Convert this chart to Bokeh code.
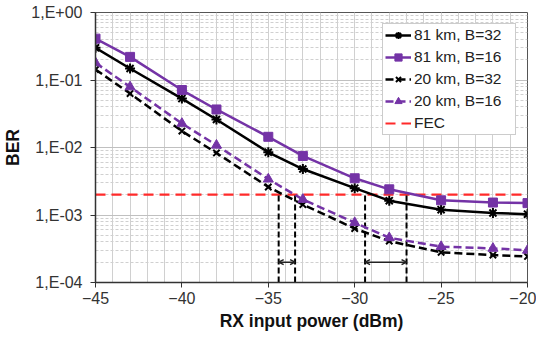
from bokeh.plotting import figure
from bokeh.models import (FixedTicker, CustomJSTickFormatter, Legend, Arrow, OpenHead)
from bokeh.embed import file_html
from bokeh.resources import INLINE

# ---- data ----
power = [-45, -43, -40, -38, -35, -33, -30, -28, -25, -22, -20]
ber_81_b32 = [0.30, 0.148, 0.053, 0.026, 0.0085, 0.0048, 0.0025, 0.00163, 0.0012, 0.00107, 0.00103]
ber_81_b16 = [0.41, 0.22, 0.071, 0.0366, 0.0144, 0.0075, 0.0035, 0.0024, 0.00165, 0.00153, 0.0015]
ber_20_b32 = [0.143, 0.063, 0.0175, 0.0083, 0.0026, 0.00143, 0.00063, 0.00041, 0.00028, 0.000255, 0.000243]
ber_20_b16 = [0.18, 0.079, 0.0227, 0.0108, 0.0034, 0.0017, 0.00077, 0.00046, 0.00034, 0.00032, 0.0003]
fec_limit = 2e-3
crossings = [-34.4, -33.45, -29.4, -27.0]
arrow_pairs = [(-34.4, -33.45), (-29.4, -27.0)]
arrow_level = 2e-4
x_ticks = [-45, -40, -35, -30, -25, -20]
y_ticks = [1e-4, 1e-3, 1e-2, 1e-1, 1.0]

PURPLE = "#7433a6"
FONT = "Liberation Sans"

p = figure(frame_width=432, frame_height=270, y_axis_type="log",
           x_range=(-45, -20), y_range=(1e-4, 1.0),
           output_backend="svg", toolbar_location=None,
           min_border_left=0, min_border_right=9, min_border_top=12, min_border_bottom=0)

# grid
minor_y = [m * 10.0 ** e for e in range(-4, 0) for m in range(2, 10)]
p.yaxis.ticker = FixedTicker(ticks=y_ticks, minor_ticks=minor_y)
p.xaxis.ticker = FixedTicker(ticks=x_ticks, minor_ticks=list(range(-45, -19)))
p.xgrid.grid_line_color = "#d0d0d0"
p.xgrid.minor_grid_line_color = "#d0d0d0"
p.ygrid.grid_line_color = "#c0c0c0"
p.ygrid.minor_grid_line_color = "#d0d0d0"
p.ygrid.minor_grid_line_dash = "3 2"
p.outline_line_color = "#555555"
p.outline_line_width = 1
p.background_fill_color = "white"

p.yaxis.formatter = CustomJSTickFormatter(code="""
const e = Math.round(Math.log10(tick));
return '1,E' + (e < 0 ? '-' : '+') + String(Math.abs(e)).padStart(2, '0');
""")

for ax in (p.xaxis[0], p.yaxis[0]):
    ax.axis_line_color = "#333333"
    ax.axis_line_width = 1.5
    ax.major_tick_line_color = "#333333"
    ax.major_tick_out = 5
    ax.major_tick_in = 0
    ax.minor_tick_out = 0
    ax.minor_tick_in = 0
    ax.major_label_text_font = FONT
    ax.major_label_text_font_size = "16px"
    ax.major_label_text_color = "#333333"
    ax.axis_label_text_font = FONT
    ax.axis_label_text_font_size = "17.5px"
    ax.axis_label_text_font_style = "bold"
    ax.axis_label_text_color = "#111111"

p.xaxis.axis_label = "RX input power (dBm)"
p.yaxis.axis_label = "BER"
p.xaxis.major_label_standoff = 4
p.xaxis.axis_label_standoff = 4
p.yaxis.major_label_standoff = 8
p.yaxis.axis_label_standoff = 5

# FEC line
fec_r = p.line(x=[-45, -20], y=[fec_limit, fec_limit], line_color="#ff2a2a",
               line_width=2.2, line_dash="10 6")

# vertical dashed markers and arrows
p.segment(x0=crossings, y0=[1e-4] * len(crossings), x1=crossings, y1=[fec_limit] * len(crossings),
          line_color="black", line_width=2, line_dash="6 3")
for a, b in arrow_pairs:
    p.add_layout(Arrow(start=OpenHead(size=5, line_width=1.5, line_color="#222222"),
                       end=OpenHead(size=5, line_width=1.5, line_color="#222222"),
                       x_start=a, y_start=arrow_level, x_end=b, y_end=arrow_level,
                       line_color="#222222", line_width=1.5))

l1 = p.line(power, ber_81_b32, line_color="black", line_width=2.5)
s1 = p.scatter(power, ber_81_b32, marker="asterisk", size=10, line_color="black", line_width=2)
l2 = p.line(power, ber_81_b16, line_color=PURPLE, line_width=2.5)
s2 = p.scatter(power, ber_81_b16, marker="square", size=9, fill_color=PURPLE, line_color=PURPLE)
l3 = p.line(power, ber_20_b32, line_color="black", line_width=2.5, line_dash="8 4")
s3 = p.scatter(power, ber_20_b32, marker="x", size=9, line_color="black", line_width=2)
l4 = p.line(power, ber_20_b16, line_color=PURPLE, line_width=2.5, line_dash="8 4")
s4 = p.scatter(power, ber_20_b16, marker="triangle", size=10, fill_color=PURPLE, line_color=PURPLE)

legend = Legend(items=[("81 km, B=32", [l1, s1]), ("81 km, B=16", [l2, s2]),
                       ("20 km, B=32", [l3, s3]), ("20 km, B=16", [l4, s4]),
                       ("FEC", [fec_r])],
                location="top_right", margin=11, padding=2, spacing=4,
                glyph_width=26, glyph_height=18, label_height=18, label_width=99,
                label_standoff=3,
                label_text_font=FONT, label_text_font_size="15.5px", label_text_color="#222222",
                border_line_color="#999999", border_line_width=1.2,
                background_fill_color="white", background_fill_alpha=1.0)
p.add_layout(legend)

open("out.html", "w").write(file_html(p, INLINE))
